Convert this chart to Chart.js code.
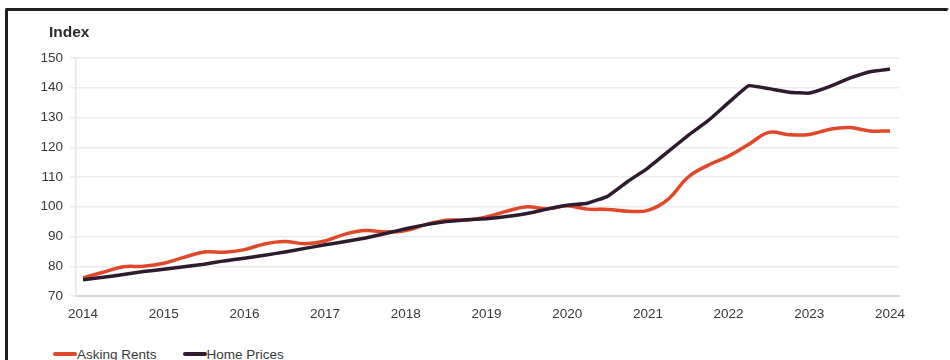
<!DOCTYPE html>
<html>
<head>
<meta charset="utf-8">
<script src="https://cdn.jsdelivr.net/npm/chart.js@4.4.1/dist/chart.umd.min.js"></script>
<style>
  html, body { margin: 0; padding: 0; background: #fff; overflow: hidden; }
  body { width: 950px; height: 360px; position: relative; font-family: "Liberation Sans", Arial, sans-serif; }
  #frame { position: absolute; left: 5px; top: 8px; width: 939px; height: 400px; border: 3.5px solid #1e1e1e; border-right-color: #fff; border-radius: 2px 4px 0 0; }
  #chartBox { position: absolute; left: 0; top: 0; width: 950px; height: 346px; }
  #legend { position: absolute; left: 53px; top: 347px; font-size: 13.5px; color: #383838; white-space: nowrap; }
  #legend span.item { display: inline-block; margin-right: 26px; }
  #legend span.swatch { display: inline-block; width: 24px; height: 4px; border-radius: 2px; vertical-align: middle; margin-top: -2px; }
</style>
</head>
<body>
<div id="frame"></div>
<div id="chartBox"><canvas id="myChart" width="950" height="346"></canvas></div>
<div id="legend"></div>
<script>
// quarterly index values, 2014 Q1 .. 2024 Q1 (2020 = 100)
let years = [2014, 2015, 2016, 2017, 2018, 2019, 2020, 2021, 2022, 2023, 2024];
let yTicks = [70, 80, 90, 100, 110, 120, 130, 140, 150];

let askingRents = [
    76.1, 78.0, 79.8, 80.0, 81.0, 83.0, 84.8, 84.7,
    85.6, 87.5, 88.3, 87.6, 88.5, 90.8, 92.0, 91.5,
    92.0, 94.0, 95.5, 95.5, 96.6, 98.5, 100.0, 99.3,
    100.3, 99.2, 99.1, 98.5, 98.8, 102.5, 110.0, 114.0,
    117.0, 121.0, 125.0, 124.2, 124.3, 126.0, 126.6, 125.5,
    125.5
];
let homePrices = [
    75.5, 76.3, 77.2, 78.2, 79.0, 79.8, 80.7, 81.8,
    82.7, 83.7, 84.8, 86.0, 87.2, 88.3, 89.5, 91.0,
    92.6, 94.0, 95.0, 95.6, 96.0, 96.7, 97.7, 99.2,
    100.5, 101.2, 103.5, 108.5, 113.0, 118.5, 124.0, 129.0,
    135.0, 140.7, 139.7, 138.5, 138.2, 140.4, 143.2, 145.4,
    146.3
];

let rentColor = '#e0482a';
let priceColor = '#2e1b2f';
let textColor = '#383838';

function toPoints(values) {
    // one value per quarter, starting at the first year
    return values.map((v, i) => ({ x: years[0] + i / 4, y: v }));
}

// "Index" label above the y axis
let indexTitle = {
    id: 'indexTitle',
    afterDraw(chart) {
        let ctx = chart.ctx;
        ctx.save();
        ctx.font = 'bold 15.5px "Liberation Sans", Arial, sans-serif';
        ctx.fillStyle = '#2a2a2a';
        ctx.textBaseline = 'middle';
        ctx.fillText('Index', 49, 33);
        ctx.restore();
    }
};

function loadChart() {
    let ctx = document.getElementById('myChart').getContext('2d');
    return new Chart(ctx, {
        type: 'line',
        data: {
            datasets: [{
                label: 'Asking Rents',
                data: toPoints(askingRents),
                borderColor: rentColor,
                borderWidth: 3.5,
                tension: 0.4,
                pointRadius: 0,
                fill: false,
                order: 1
            }, {
                label: 'Home Prices',
                data: toPoints(homePrices),
                borderColor: priceColor,
                borderWidth: 3.5,
                tension: 0.1,
                pointRadius: 0,
                fill: false,
                order: 0
            }]
        },
        options: {
            responsive: false,
            animation: false,
            layout: { padding: { left: 0, right: 51, top: 58, bottom: 0 } },
            plugins: {
                legend: { display: false },
                tooltip: { enabled: false }
            },
            scales: {
                x: {
                    type: 'linear',
                    min: 2014 - 7 / 80.7,
                    max: 2024 + 9 / 80.7,
                    afterBuildTicks: scale => { scale.ticks = years.map(v => ({ value: v })); },
                    afterFit: scale => { scale.height = 50; },
                    grid: { display: false, drawTicks: false },
                    border: { display: true, color: '#d6d6d6', width: 2 },
                    ticks: {
                        padding: 10,
                        maxRotation: 0,
                        color: textColor,
                        font: { size: 13.5, family: '"Liberation Sans", Arial, sans-serif' },
                        callback: v => String(v)
                    }
                },
                y: {
                    min: 70,
                    max: 150,
                    afterBuildTicks: scale => { scale.ticks = yTicks.map(v => ({ value: v })); },
                    afterFit: scale => { scale.width = 76; },
                    grid: { color: '#ececec', lineWidth: 1.5, tickLength: 6 },
                    border: { display: true, color: '#e6e6e6', width: 1.5 },
                    ticks: {
                        padding: 7,
                        color: textColor,
                        font: { size: 13.5, family: '"Liberation Sans", Arial, sans-serif' },
                        callback: v => String(v)
                    }
                }
            }
        },
        plugins: [indexTitle]
    });
}

function createLegend(chart) {
    let legend = document.getElementById('legend');
    chart.data.datasets.forEach(ds => {
        let item = document.createElement('span');
        item.className = 'item';
        let swatch = document.createElement('span');
        swatch.className = 'swatch';
        swatch.style.background = ds.borderColor;
        item.appendChild(swatch);
        item.appendChild(document.createTextNode(ds.label));
        legend.appendChild(item);
    });
}

let chart = loadChart();
createLegend(chart);
</script>
</body>
</html>
